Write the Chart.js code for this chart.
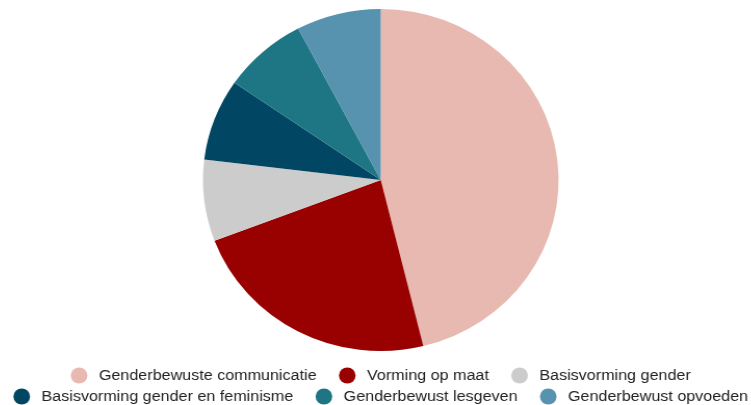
<!DOCTYPE html>
<html lang="nl">
<head>
    <meta charset="UTF-8">
    <title>Vormingen gender</title>
    <script src="https://cdn.jsdelivr.net/npm/chart.js"></script>
    <style>
        html, body {
            margin: 0;
            padding: 0;
            background: #ffffff;
            overflow: hidden;
        }
        /* het origineel is iets breed uitgerekt */
        #pieChart {
            display: block;
            margin-left: 10px;
            transform: scaleX(1.04);
            transform-origin: 0 0;
        }
    </style>
</head>
<body>
    <canvas id="pieChart" width="713" height="405"></canvas>

    <script>
        // Gegevens
        const categories = [
            'Genderbewuste communicatie',
            'Vorming op maat',
            'Basisvorming gender',
            'Basisvorming gender en feminisme',
            'Genderbewust lesgeven',
            'Genderbewust opvoeden'
        ];
        const values = [6, 3, 1, 1, 1, 1];
        const colors = ['#e8b9b0', '#990000', '#cccccc', '#014662', '#1e7685', '#5792ae'];

        // Legende met ronde bolletjes, gecentreerd per rij
        const dotLegend = {
            id: 'dotLegend',
            afterDraw(chart, args, opts) {
                const ctx = chart.ctx;
                const labels = chart.data.labels;
                const bg = chart.data.datasets[0].backgroundColor;
                ctx.save();
                ctx.font = opts.size + 'px ' + opts.family;
                ctx.textBaseline = 'middle';
                ctx.textAlign = 'left';

                const items = labels.map((text, i) => ({
                    text: text,
                    color: bg[i],
                    w: opts.dot + opts.dotGap + ctx.measureText(text).width
                }));

                const maxW = chart.width + opts.overflow;
                const rows = [[]];
                let rowW = 0;
                items.forEach(it => {
                    const row = rows[rows.length - 1];
                    const add = (row.length ? opts.itemGap : 0) + it.w;
                    if (row.length && rowW + add > maxW) {
                        rows.push([it]);
                        rowW = it.w;
                    } else {
                        row.push(it);
                        rowW += add;
                    }
                });

                rows.forEach((row, r) => {
                    const total = row.reduce((s, it) => s + it.w, 0) + opts.itemGap * (row.length - 1);
                    let x = (chart.width - total) / 2;
                    const y = chart.chartArea.bottom + opts.offset + r * opts.lineHeight;
                    row.forEach(it => {
                        ctx.fillStyle = it.color;
                        ctx.beginPath();
                        ctx.arc(x + opts.dot / 2, y, opts.dot / 2, 0, Math.PI * 2);
                        ctx.fill();
                        ctx.fillStyle = opts.color;
                        ctx.fillText(it.text, x + opts.dot + opts.dotGap, y);
                        x += it.w + opts.itemGap;
                    });
                });
                ctx.restore();
            }
        };

        new Chart(document.getElementById('pieChart'), {
            type: 'pie',
            data: {
                labels: categories,
                datasets: [{
                    data: values,
                    backgroundColor: colors,
                    borderWidth: 0
                }]
            },
            options: {
                responsive: false,
                animation: false,
                layout: {
                    padding: { top: 9, bottom: 54, left: 0, right: 0 }
                },
                plugins: {
                    legend: { display: false },
                    tooltip: { enabled: false },
                    dotLegend: {
                        family: '"Liberation Sans", Arial, sans-serif',
                        size: 15.5,
                        color: '#222222',
                        dot: 16,
                        dotGap: 11,
                        itemGap: 21.5,
                        offset: 24.5,
                        lineHeight: 21,
                        overflow: 6
                    }
                }
            },
            plugins: [dotLegend]
        });
    </script>
</body>
</html>
